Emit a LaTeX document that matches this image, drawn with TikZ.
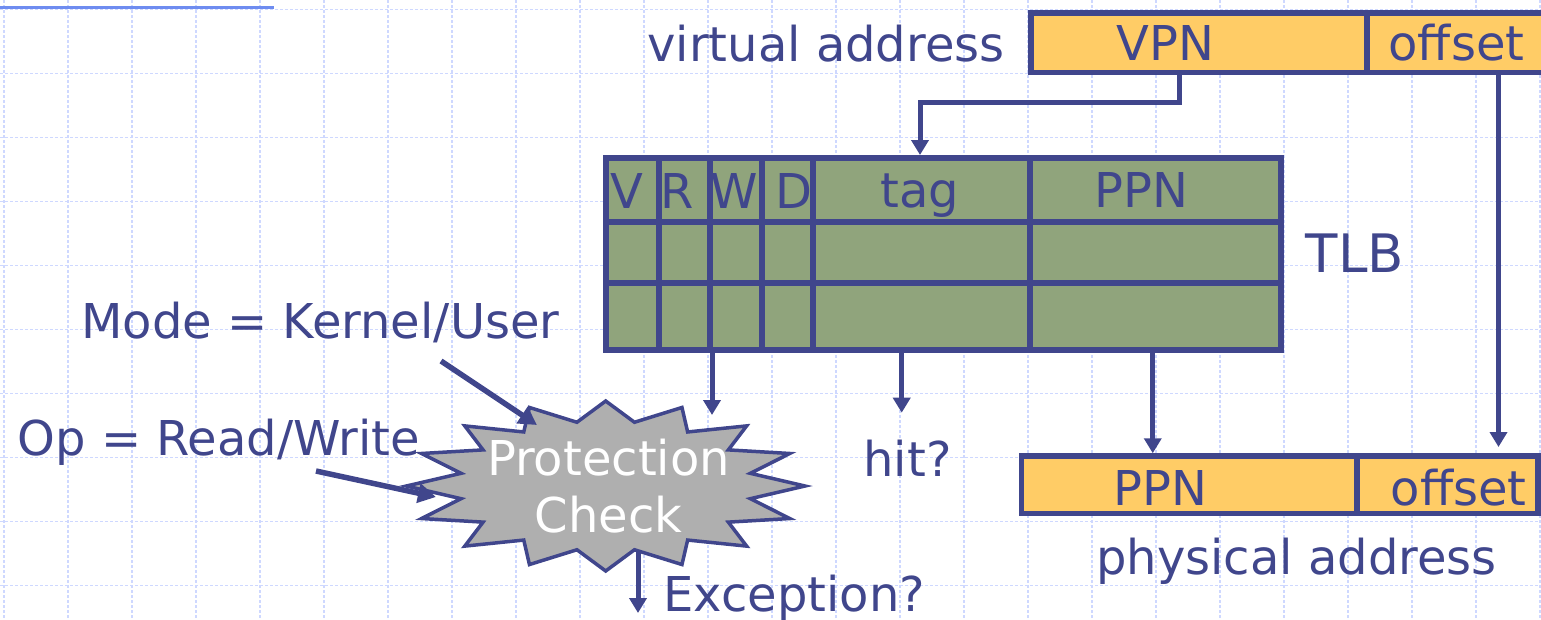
\documentclass[tikz,border=0pt]{standalone}
\usepackage{fontspec}
\setmainfont{DejaVu Sans}
\usetikzlibrary{arrows.meta}

\definecolor{ink}{RGB}{64,70,140}
\definecolor{gridblue}{RGB}{206,216,255}
\definecolor{rulerblue}{RGB}{110,140,240}
\definecolor{addrfill}{RGB}{255,204,102}
\definecolor{tlbfill}{RGB}{144,164,124}
\definecolor{burstfill}{RGB}{175,175,175}

\begin{document}
\begin{tikzpicture}[x=1pt,y=-1pt,
  lbl/.style={text=ink, font=\fontsize{48}{57.3}\selectfont, inner sep=0pt, anchor=base},
  field/.style={draw=ink, fill=addrfill, line width=5.5pt, inner sep=0pt},
  tlbbox/.style={draw=ink, fill=tlbfill, line width=6pt, inner sep=0pt},
  tlbrule/.style={draw=ink, line width=6pt},
  conn/.style={draw=ink, line width=5pt, -{Triangle[length=15pt,width=17pt]}},
  pointer/.style={draw=ink, line width=5.5pt, -{Triangle[length=18pt,width=19pt]}},
  gridline/.style={draw=gridblue, line width=1.6pt, dash pattern=on 3pt off 2pt},
  burst/.style={draw=ink, fill=burstfill, line width=3.5pt, line join=miter}]

\useasboundingbox (0,0) rectangle (1541,619);
\clip (0,0) rectangle (1541,619);

% background grid
\foreach \i in {0,...,24}
  \draw[gridline] ({4+64*\i},0) -- ({4+64*\i},619);
\foreach \j in {0,...,9}
  \draw[gridline] (0,{9.3+64*\j}) -- (1541,{9.3+64*\j});
\draw[rulerblue, line width=2.5pt] (0,7.7) -- (274,7.7);

% virtual address
\node[field, minimum width=336pt, minimum height=59.6pt] (vpn)  at (1199,42.6) {};
\node[field, minimum width=178pt, minimum height=59.6pt] (voff) at (1456,42.6) {};
\node[lbl] (vpnlbl)  at (1165.5,60) {VPN};
\node[lbl] (vofflbl) at (1456.5,60) {offset};
\node[lbl] (vaddr)   at (826,61) {virtual address};

% TLB
\node[tlbbox, minimum width=674.5pt, minimum height=192pt] (tlb) at (943.25,254) {};
\foreach \x in {659,710,762,813,1030}
  \draw[tlbrule] (\x,158) -- (\x,350);
\foreach \y in {222,283}
  \draw[tlbrule] (606,\y) -- (1280.5,\y);
\node[lbl] (hV)   at (626.7,208) {V};
\node[lbl] (hR)   at (677.5,208) {R};
\node[lbl] (hW)   at (734.7,208) {W};
\node[lbl] (hD)   at (794,208) {D};
\node[lbl] (htag) at (920,207.5) {tag};
\node[lbl] (hppn) at (1141,207.5) {PPN};
\node[lbl, font=\fontsize{53}{60}\selectfont] (tlblbl) at (1355,272.3) {TLB};

% physical address
\node[field, minimum width=335.5pt, minimum height=57.5pt] (pppn) at (1189.25,484.75) {};
\node[field, minimum width=181pt, minimum height=57.5pt]   (poff) at (1447.5,484.75) {};
\node[lbl] (pppnlbl) at (1160.5,505) {PPN};
\node[lbl] (pofflbl) at (1458.6,505) {offset};
\node[lbl] (paddr)   at (1296.5,574) {physical address};

% protection check burst
\filldraw[burst] plot[samples at={0,...,31}, variable=\k]
  ({605.7+ifthenelse(mod(\k,2)==0,199.3,147.5)*cos(90+11.25*\k)},
   {486-ifthenelse(mod(\k,2)==0,85,65)*sin(90+11.25*\k)}) -- cycle;
\node[text=white, font=\fontsize{48}{57.3}\selectfont, align=center, inner sep=0pt]
  (check) at (608.5,486) {Protection\\Check};

% side labels
\node[lbl] (mode) at (320.4,338) {Mode = Kernel/User};
\node[lbl] (op)   at (218.8,455) {Op = Read/Write};
\node[lbl] (hit)  at (907.5,476.7) {hit?};
\node[lbl] (exc)  at (794,611.7) {Exception?};

% connector end points
\coordinate (vtap)     at ([xshift=-20pt]vpn.south);
\coordinate (otap)     at ([xshift=42.5pt]voff.south);
\coordinate (otip)     at (1498.5,447);
\coordinate (protIn)   at (712,415);
\coordinate (hitIn)    at (901.7,412.7);
\coordinate (pppnIn)   at ([xshift=-36.5pt]pppn.north);
\coordinate (modeTail) at (441,361);
\coordinate (modeTip)  at (537,425);
\coordinate (opTail)   at (316,471);
\coordinate (opTip)    at (436,497);
\coordinate (excOut)   at (638,552);
\coordinate (excTip)   at (638,613);

% connectors
\draw[conn] (vtap) -- ++(0,27) -| (htag |- tlb.north);
\draw[conn] (otap) -- (otip);
\draw[conn] (tlb.south -| protIn) -- (protIn);
\draw[conn] (tlb.south -| hitIn) -- (hitIn);
\draw[conn] (tlb.south -| pppnIn) -- (pppnIn);
\draw[pointer] (modeTail) -- (modeTip);
\draw[pointer] (opTail) -- (opTip);
\draw[conn] (excOut) -- (excTip);

\end{tikzpicture}
\end{document}
